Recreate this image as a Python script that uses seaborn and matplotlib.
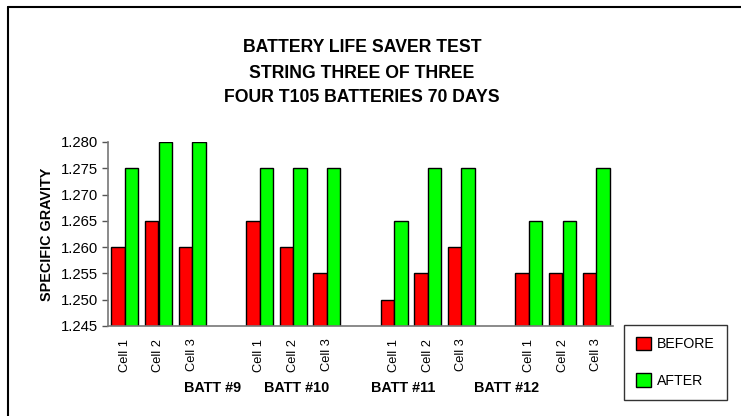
import matplotlib
matplotlib.use("Agg")
import matplotlib.pyplot as plt
import matplotlib.transforms as mtrans
import seaborn as sns
import pandas as pd
from matplotlib.patches import Patch
from matplotlib.lines import Line2D

# ---- data ----
batteries = ["BATT #9", "BATT #10", "BATT #11", "BATT #12"]
cells = ["Cell 1", "Cell 2", "Cell 3"]
before = [1.260, 1.265, 1.260, 1.265, 1.260, 1.255, 1.250, 1.255, 1.260, 1.255, 1.255, 1.255]
after = [1.275, 1.280, 1.280, 1.275, 1.275, 1.275, 1.265, 1.275, 1.275, 1.265, 1.265, 1.275]
series = ["BEFORE", "AFTER"]
colors = ["#FF0000", "#00FF00"]
title_lines = ["BATTERY LIFE SAVER TEST", "STRING THREE OF THREE", "FOUR T105 BATTERIES 70 DAYS"]
y_ticks = [1.245, 1.250, 1.255, 1.260, 1.265, 1.270, 1.275, 1.280]

# ---- build table ----
rows = []
order = []
ticklabels = []
for bi, b in enumerate(batteries):
    for ci, c in enumerate(cells):
        key = f"{b}|{c}"
        order.append(key)
        ticklabels.append(c)
        idx = bi * 3 + ci
        rows.append({"slot": key, "period": "BEFORE", "value": before[idx]})
        rows.append({"slot": key, "period": "AFTER", "value": after[idx]})
    if bi < len(batteries) - 1:
        order.append(f"gap{bi}")
        ticklabels.append("")
df = pd.DataFrame(rows)

sns.set_style("white")
plt.rcParams["font.family"] = ["Liberation Sans", "DejaVu Sans"]
for k in ["text.color", "axes.labelcolor", "xtick.color", "ytick.color"]:
    plt.rcParams[k] = "black"

fig = plt.figure(figsize=(7.41, 4.16), dpi=100)
ax = fig.add_axes([108 / 741, 1 - 326 / 416, (613 - 108) / 741, (326 - 142) / 416])

sns.barplot(data=df, x="slot", y="value", hue="period", order=order,
            hue_order=series, palette=colors, edgecolor="black", linewidth=1,
            width=0.8, saturation=1, ax=ax, legend=False)

ax.set_ylim(1.245, 1.280)
ax.set_xlim(-0.5, len(order) - 0.5)
ax.set_yticks(y_ticks)
ax.set_yticklabels([f"{v:.3f}" for v in y_ticks], fontsize=10.7)
ax.set_xticks(range(len(order)))
ax.set_xticklabels(ticklabels, rotation=90, fontsize=9.3)
ax.set_xticks([i + 0.5 for i in range(len(order) - 1)] + [-0.5, len(order) - 0.5], minor=True)
ax.tick_params(axis="x", which="major", length=0, pad=9)
ax.tick_params(axis="x", which="minor", length=5, width=1, color="#555555", direction="out")
ax.tick_params(axis="y", length=4, width=1, color="#555555", labelcolor="black",
               direction="out", pad=3, left=True)
ax.set_xlabel("")
ax.set_ylabel("SPECIFIC GRAVITY", fontsize=10.4, fontweight="bold", labelpad=5)
for s in ["top", "right"]:
    ax.spines[s].set_visible(False)
for s in ["left", "bottom"]:
    ax.spines[s].set_color("#777777")
    ax.spines[s].set_linewidth(1.2)

# group labels
batt_pos = [2.62, 5.11, 8.26, 11.35]
tr = mtrans.blended_transform_factory(ax.transData, fig.transFigure)
for lab, xp in zip(batteries, batt_pos):
    ax.text(xp, 1 - 388 / 416, lab, transform=tr,
            ha="center", va="center", fontsize=10.4, fontweight="bold")

# title
for i, t in enumerate(title_lines):
    fig.text(362 / 741, 1 - (48 + 25 * i) / 416, t, ha="center", va="center",
             fontsize=12.7, fontweight="bold")

# legend
handles = [Patch(facecolor=c, edgecolor="black", linewidth=1) for c in colors]
leg = fig.legend(handles, series, loc="upper left", bbox_to_anchor=(624 / 741, 1 - 325 / 416),
                 fontsize=10.2, frameon=True, fancybox=False, handlelength=1.05, handleheight=1.05,
                 labelspacing=1.55, borderpad=0.85, handletextpad=0.45, borderaxespad=0)
leg.get_frame().set_edgecolor("black")
leg.get_frame().set_linewidth(1)

# outer frame (left and top edges visible)
fig.add_artist(Line2D([8 / 741, 8 / 741], [0, 1 - 7 / 416], transform=fig.transFigure, color="black", lw=1.5))
fig.add_artist(Line2D([8 / 741, 1], [1 - 7 / 416, 1 - 7 / 416], transform=fig.transFigure, color="black", lw=1.5))

fig.savefig("out.png", dpi=100)
